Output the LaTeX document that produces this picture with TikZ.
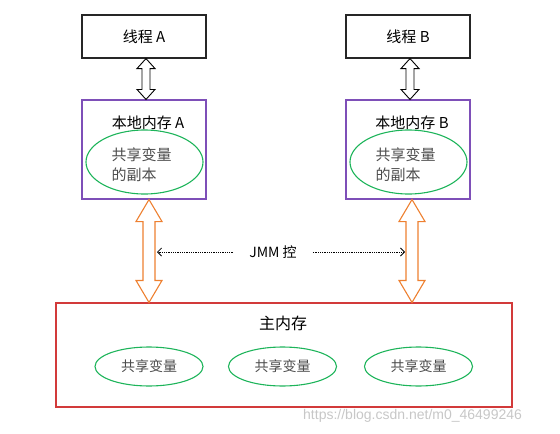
\documentclass[tikz,border=0pt]{standalone}
\usepackage{fontspec}
\setmainfont{Noto Sans CJK SC}
\newfontfamily\wmfont{Liberation Sans}
\usetikzlibrary{calc,arrows.meta,shapes.geometric}
\definecolor{purp}{HTML}{7E4FB8}
\definecolor{grn}{HTML}{1DB45A}
\definecolor{org}{HTML}{EE8030}
\definecolor{redb}{HTML}{D23A3A}
\tikzset{
  thread/.style={draw=black!85,line width=1.1pt,minimum width=124pt,minimum height=43pt,font=\fontsize{15}{17}\selectfont},
  local/.style={draw=purp,line width=1.1pt,minimum width=124pt,minimum height=99pt},
  mainbox/.style={draw=redb,line width=1.1pt,minimum width=456pt,minimum height=104pt},
  var/.style={draw=grn,line width=1.1pt,ellipse,minimum width=108pt,minimum height=39pt,inner sep=0pt,font=\fontsize{14}{16}\selectfont,text=black!70},
  blk/.style={draw=black,line width=0.9pt,fill=white},
  oblk/.style={draw=org,line width=1.1pt,fill=white},
  dotarr/.style={densely dotted,line width=0.8pt,-{Straight Barb[length=4pt,width=8pt]}}
}
\newcommand\dblarrow[6]{% style, start, end, half shaft, half head, head length
  \draw[#1] let \p1=(#2), \p2=(#3) in
    (\x1,\y1) -- (\x1+#5,\y1-#6) -- (\x1+#4,\y1-#6) -- (\x1+#4,\y2+#6) -- (\x1+#5,\y2+#6)
    -- (\x1,\y2) -- (\x1-#5,\y2+#6) -- (\x1-#4,\y2+#6) -- (\x1-#4,\y1-#6) -- (\x1-#5,\y1-#6) -- cycle;}
\begin{document}
\begin{tikzpicture}[x=1pt,y=-1pt]
\useasboundingbox (0,0) rectangle (560,434);
% threads
\node[thread] (tA) at (144,36.5) {线程 A};
\node[thread] (tB) at (408,36.5) {线程 B};
% local memories
\node[local] (lA) at (144,149.5) {};
\node[local] (lB) at (408,149.5) {};
\node[font=\fontsize{15}{17}\selectfont] (lAt) at (148,123) {本地内存 A};
\node[font=\fontsize{15}{17}\selectfont] (lBt) at (412,123) {本地内存 B};
\node[draw=grn,line width=1.1pt,ellipse,minimum width=117pt,minimum height=64pt] (eA) at (144.5,162) {};
\node[draw=grn,line width=1.1pt,ellipse,minimum width=117pt,minimum height=64pt] (eB) at (408.5,162) {};
\node[align=left,font=\fontsize{15}{20}\selectfont,text=black!70,anchor=west] (cA) at (108,165) {共享变量\\的副本};
\node[align=left,font=\fontsize{15}{20}\selectfont,text=black!70,anchor=west] (cB) at (372,165) {共享变量\\的副本};
% main memory
\node[mainbox] (mm) at (284,355) {};
\node[font=\fontsize{16}{18}\selectfont] (mmt) at (283,323) {主内存};
\node[var] (v1) at (149,366.5) {共享变量};
\node[var] (v2) at (282.5,366.5) {共享变量};
\node[var] (v3) at (418.5,366.5) {共享变量};
% black double arrows
\coordinate (ba1) at ($(tA.south)+(2,0)$);
\coordinate (ba2) at ($(lA.north)+(2,0)$);
\coordinate (bb1) at ($(tB.south)+(2,0)$);
\coordinate (bb2) at ($(lB.north)+(2,0)$);
\dblarrow{blk}{ba1}{ba2}{4}{9}{10}
\dblarrow{blk}{bb1}{bb2}{4}{9}{10}
% orange double arrows
\coordinate (oa1) at ($(lA.south)+(5,0)$);
\coordinate (oa2) at (oa1 |- mm.north);
\coordinate (ob1) at ($(lB.south)+(4,0)$);
\coordinate (ob2) at (ob1 |- mm.north);
\dblarrow{oblk}{oa1}{oa2}{6}{13}{22}
\dblarrow{oblk}{ob1}{ob2}{6}{13}{22}
% JMM control
\node[font=\fontsize{14}{16}\selectfont,inner sep=2pt] (jmm) at (273,252) {JMM 控};
\coordinate (jla) at ($(oa1)+(8,0)$);
\coordinate (jl) at (jla |- jmm);
\coordinate (jra) at ($(ob1)+(-7,0)$);
\coordinate (jr) at (jra |- jmm);
\coordinate (jls) at ($(jmm.west)+(-14,0)$);
\coordinate (jrs) at ($(jmm.east)+(14,0)$);
\draw[dotarr] (jls) -- (jl);
\draw[dotarr] (jrs) -- (jr);
% watermark
\node[font=\wmfont\fontsize{14}{16}\selectfont,text=black!22,anchor=west,inner sep=0pt] (wm) at (303,416) {https://blog.csdn.net/m0\_46499246};
\end{tikzpicture}
\end{document}
